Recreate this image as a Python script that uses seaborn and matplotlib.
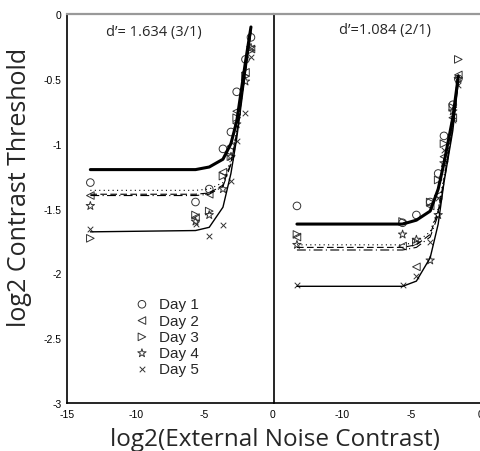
import matplotlib
matplotlib.use("Agg")
import matplotlib.pyplot as plt
import numpy as np
import pandas as pd
import seaborn as sns

# log2 external noise contrast (zero noise drawn at -13.3)
noise_x = [-13.3, -5.64, -4.64, -3.64, -3.06, -2.64, -2.0, -1.6]
days = ["Day 1", "Day 2", "Day 3", "Day 4", "Day 5"]
day_markers = ["o", "<", ">", "*", "x"]

# left panel: d'=1.634 (3/1)
left_title = "d\u2019= 1.634 (3/1)"
left_fit = {
    "Day 1": [-1.20, -1.20, -1.18, -1.12, -1.00, -0.83, -0.37, -0.10],
    "Day 2": [-1.36, -1.36, -1.35, -1.30, -1.12, -0.90, -0.42, -0.12],
    "Day 3": [-1.39, -1.39, -1.38, -1.32, -1.15, -0.92, -0.43, -0.12],
    "Day 4": [-1.40, -1.40, -1.39, -1.33, -1.16, -0.93, -0.44, -0.12],
    "Day 5": [-1.68, -1.67, -1.645, -1.49, -1.23, -0.96, -0.45, -0.14],
}
left_obs = {
    "Day 1": [-1.30, -1.45, -1.35, -1.04, -0.91, -0.60, -0.35, -0.18],
    "Day 2": [-1.40, -1.57, -1.39, -1.22, -1.02, -0.75, -0.45, -0.27],
    "Day 3": [-1.73, -1.55, -1.52, -1.25, -1.10, -0.80, -0.48, -0.28],
    "Day 4": [-1.48, -1.60, -1.55, -1.35, -1.10, -0.85, -0.52, -0.26],
    "Day 5": [-1.66, -1.62, -1.71, -1.63, -1.29, -0.98, -0.76, -0.33],
}

# right panel: d'=1.084 (2/1)
right_title = "d\u2019=1.084 (2/1)"
right_fit = {
    "Day 1": [-1.62, -1.62, -1.59, -1.52, -1.35, -1.15, -0.80, -0.48],
    "Day 2": [-1.78, -1.78, -1.76, -1.68, -1.50, -1.25, -0.85, -0.50],
    "Day 3": [-1.80, -1.80, -1.78, -1.70, -1.52, -1.28, -0.86, -0.50],
    "Day 4": [-1.82, -1.82, -1.80, -1.72, -1.55, -1.30, -0.87, -0.50],
    "Day 5": [-2.10, -2.10, -2.06, -1.88, -1.62, -1.30, -0.90, -0.52],
}
right_obs = {
    "Day 1": [-1.48, -1.61, -1.55, -1.45, -1.23, -0.94, -0.70, -0.50],
    "Day 2": [-1.72, -1.79, -1.95, -1.48, -1.40, -1.10, -0.80, -0.47],
    "Day 3": [-1.70, -1.60, -1.76, -1.45, -1.28, -1.00, -0.72, -0.35],
    "Day 4": [-1.78, -1.70, -1.74, -1.90, -1.55, -1.15, -0.75, -0.50],
    "Day 5": [-2.09, -2.09, -2.02, -1.76, -1.42, -1.05, -0.82, -0.55],
}

line_styles = {
    "Day 1": dict(linestyle="-", linewidth=2.2),
    "Day 2": dict(linestyle=(0, (1, 3)), linewidth=0.8),
    "Day 3": dict(linestyle=(0, (6, 3)), linewidth=0.8),
    "Day 4": dict(linestyle=(0, (8, 3, 1, 3)), linewidth=0.8),
    "Day 5": dict(linestyle="-", linewidth=1.0),
}

sns.set_style("white")
plt.rcParams["font.family"] = ["Liberation Sans", "DejaVu Sans"]

fig = plt.figure(figsize=(4.8, 4.52), dpi=100)
ax_l = fig.add_axes([0.1396, 0.1062, 0.429, 0.8606])
ax_r = fig.add_axes([0.5698, 0.1062, 0.431, 0.8606])


def draw_panel(ax, fits, obs):
    for day, marker in zip(days, day_markers):
        df = pd.DataFrame({"x": noise_x, "y": fits[day]})
        sns.lineplot(data=df, x="x", y="y", ax=ax, color="black",
                     sort=False, estimator=None, **line_styles[day])
        dd = pd.DataFrame({"x": noise_x, "y": obs[day]})
        if marker == "x":
            sns.scatterplot(data=dd, x="x", y="y", ax=ax, marker="x",
                            color="#333333", s=16, linewidth=0.7, label=day)
        else:
            size = 40 if marker == "*" else 30
            sns.scatterplot(data=dd, x="x", y="y", ax=ax, marker=marker,
                            facecolors="none", edgecolor="#333333", s=size,
                            linewidth=0.7, label=day)
    ax.set_xlim(-15, 0)
    ax.set_ylim(-3, 0)
    ax.set_xlabel("")
    ax.set_ylabel("")
    ax.set_xticks([-15, -10, -5, 0])
    ax.set_yticks([-3, -2.5, -2, -1.5, -1, -0.5, 0])
    ax.tick_params(direction="in", length=3, width=0.8, labelsize=7.5,
                   pad=4, colors="black")
    ax.spines["top"].set_color("#999999")
    ax.spines["top"].set_linewidth(1.6)
    for s in ["left", "bottom"]:
        ax.spines[s].set_color("black")
        ax.spines[s].set_linewidth(1.2)
    ax.spines["right"].set_visible(False)


draw_panel(ax_l, left_fit, left_obs)
draw_panel(ax_r, right_fit, right_obs)

ax_l.set_yticklabels(["-3", "-2.5", "-2", "-1.5", "-1", "-0.5", "0"])
ax_l.set_xticklabels(["-15", "-10", "-5", "0"])
ax_r.set_yticklabels([])
ax_r.set_xticklabels(["", "-10", "-5", "0"])

handles, labels = ax_l.get_legend_handles_labels()
ax_l.legend(handles, labels, loc="center left", bbox_to_anchor=(0.26, 0.17),
            frameon=False, fontsize=11, labelspacing=0.15, handletextpad=0.6,
            handlelength=1.0)
ax_r.get_legend().remove()

ax_l.text(0.42, 0.955, left_title, transform=ax_l.transAxes, ha="center",
          va="center", fontsize=10.5, family=["Open Sans", "DejaVu Sans"])
ax_r.text(0.54, 0.96, right_title, transform=ax_r.transAxes, ha="center",
          va="center", fontsize=10.5, family=["Open Sans", "DejaVu Sans"])

fig.text(0.04, 0.585, "log2 Contrast Threshold", rotation=90, ha="center",
         va="center", fontsize=18, family=["Open Sans", "DejaVu Sans"])
fig.text(0.572, 0.026, "log2(External Noise Contrast)", ha="center",
         va="center", fontsize=17.5, family=["Open Sans", "DejaVu Sans"])

fig.savefig("out.png", dpi=100)
